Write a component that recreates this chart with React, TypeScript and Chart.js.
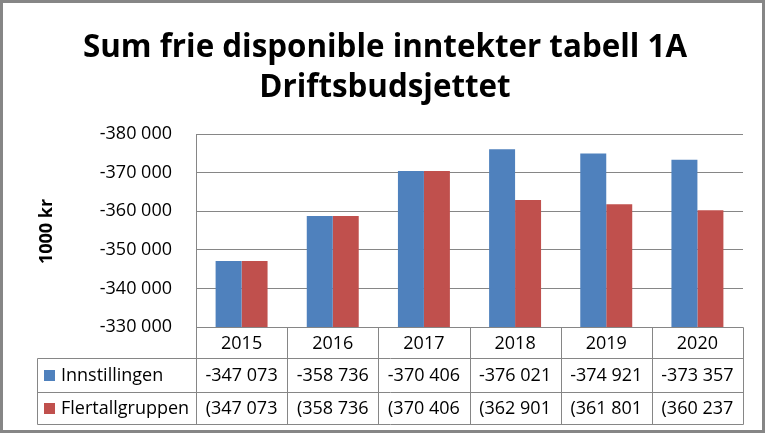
import React, { useEffect, useRef } from "react";
import { Chart, registerables } from "chart.js";

Chart.register(...registerables);

const categories = ["2015", "2016", "2017", "2018", "2019", "2020"];
const seriesNames = ["Innstillingen", "Flertallgruppen"];
const innstillingen = [-347073, -358736, -370406, -376021, -374921, -373357];
const flertallgruppen = [-347073, -358736, -370406, -362901, -361801, -360237];
const seriesColors = ["#4F81BD", "#C0504D"];
const yMin = -380000;
const yMax = -330000;
const yStep = 10000;
const titleLines = ["Sum frie disponible inntekter tabell 1A", "Driftsbudsjettet"];
const yTitle = "1000 kr";

const FONT = "'Open Sans', 'Noto Sans', sans-serif";
const GRID = "#868686";

function group(v: number): string {
  return String(Math.abs(Math.round(v))).replace(/\B(?=(\d{3})+(?!\d))/g, " ");
}
function fmtMinus(v: number): string {
  return (v < 0 ? "-" : "") + group(v);
}
function fmtParen(v: number): string {
  return (v < 0 ? "(" : "") + group(v);
}
const seriesFormats = [fmtMinus, fmtParen];
const seriesData = [innstillingen, flertallgruppen];

const decorPlugin = {
  id: "decor",
  beforeDraw(chart: any) {
    const ctx = chart.ctx;
    ctx.save();
    ctx.fillStyle = "#ffffff";
    ctx.fillRect(0, 0, chart.width, chart.height);
    ctx.restore();
  },
  afterDraw(chart: any) {
    const ctx = chart.ctx;
    const area = chart.chartArea;
    const xs = chart.scales.x;
    ctx.save();

    // outer frame
    ctx.strokeStyle = GRID;
    ctx.lineWidth = 3;
    ctx.strokeRect(1.5, 1.5, 762, 430);

    // title
    ctx.fillStyle = "#000";
    ctx.textAlign = "center";
    ctx.textBaseline = "alphabetic";
    ctx.font = `bold 33px ${FONT}`;
    const w1 = ctx.measureText(titleLines[0]).width;
    const sx = Math.min(1, 604 / w1);
    const baselines = [57, 97];
    titleLines.forEach((t, i) => {
      ctx.save();
      ctx.translate(385, baselines[i]);
      ctx.scale(sx, 1);
      ctx.fillText(t, 0, 0);
      ctx.restore();
    });

    // y axis title
    ctx.save();
    ctx.translate(47, (area.top + area.bottom) / 2 + 1);
    ctx.rotate(-Math.PI / 2);
    ctx.font = `bold 18px ${FONT}`;
    ctx.textAlign = "center";
    ctx.textBaseline = "middle";
    ctx.fillText(yTitle, 0, 0);
    ctx.restore();

    // data table
    const n = categories.length;
    const colW = (area.right - area.left) / n;
    const edges: number[] = [];
    for (let i = 0; i < n; i++) edges.push(xs.getPixelForValue(i) - colW / 2);
    edges.push(area.right);
    const top = area.bottom;
    const rowH = [31, 34, 32];
    const rowsY = [top, top + rowH[0], top + rowH[0] + rowH[1], top + rowH[0] + rowH[1] + rowH[2]];
    const tableLeft = 37;

    ctx.strokeStyle = GRID;
    ctx.lineWidth = 1;
    const line = (x1: number, y1: number, x2: number, y2: number) => {
      ctx.beginPath();
      ctx.moveTo(Math.round(x1) + 0.5, Math.round(y1) + 0.5);
      ctx.lineTo(Math.round(x2) + 0.5, Math.round(y2) + 0.5);
      ctx.stroke();
    };
    line(area.left, rowsY[0], area.right, rowsY[0]);
    line(tableLeft, rowsY[1], area.right, rowsY[1]);
    line(tableLeft, rowsY[2], area.right, rowsY[2]);
    line(tableLeft, rowsY[3], area.right, rowsY[3]);
    line(tableLeft, rowsY[1], tableLeft, rowsY[3]);
    edges.forEach((x) => line(x, rowsY[0], x, rowsY[3]));

    ctx.fillStyle = "#000";
    ctx.font = `18px ${FONT}`;
    ctx.textAlign = "center";
    ctx.textBaseline = "middle";
    categories.forEach((c, i) => {
      ctx.fillText(c, xs.getPixelForValue(i), (rowsY[0] + rowsY[1]) / 2 + 1);
    });
    seriesData.forEach((arr, s) => {
      const cy = (rowsY[s + 1] + rowsY[s + 2]) / 2 + 1;
      ctx.fillStyle = seriesColors[s];
      ctx.fillRect(44, Math.round(cy - 6), 11, 11);
      ctx.fillStyle = "#000";
      ctx.textAlign = "left";
      ctx.fillText(seriesNames[s], 61, cy);
      ctx.textAlign = "center";
      arr.forEach((v, i) => {
        ctx.fillText(seriesFormats[s](v), xs.getPixelForValue(i), cy);
      });
    });

    ctx.restore();
  },
};

export default function App() {
  const ref = useRef<HTMLCanvasElement | null>(null);
  useEffect(() => {
    if (!ref.current) return;
    const chart = new Chart(ref.current, {
      type: "bar",
      data: {
        labels: categories,
        datasets: seriesData.map((d, i) => ({
          label: seriesNames[i],
          data: d,
          backgroundColor: seriesColors[i],
          borderWidth: 0,
          barPercentage: 1,
          categoryPercentage: 0.57,
        })),
      },
      options: {
        responsive: false,
        animation: false,
        layout: { padding: { left: 0, top: 134, right: 25, bottom: 109 } },
        plugins: {
          legend: { display: false },
          title: { display: false },
          tooltip: { enabled: false },
        },
        scales: {
          x: { display: false },
          y: {
            reverse: true,
            min: yMin,
            max: yMax,
            afterFit: (s: any) => {
              s.width = 196;
            },
            ticks: {
              stepSize: yStep,
              padding: 24,
              color: "#000",
              font: { family: FONT, size: 18 },
              callback: (v: any) => fmtMinus(Number(v)),
            },
            grid: { color: GRID, drawTicks: false, lineWidth: 1 },
            border: { display: true, color: GRID },
          },
        },
      },
      plugins: [decorPlugin],
    });
    return () => chart.destroy();
  }, []);
  return (
    <div style={{ position: "absolute", left: 0, top: 0, width: 768, height: 436 }}>
      <canvas ref={ref} width={768} height={436} />
    </div>
  );
}
